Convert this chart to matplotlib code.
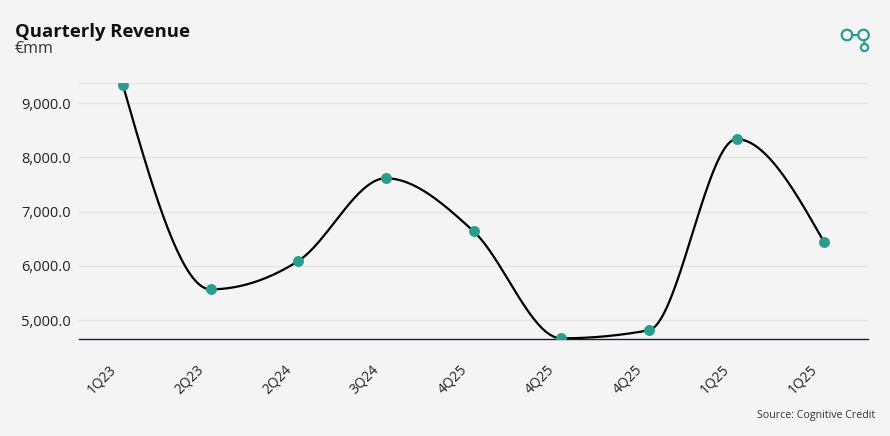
import numpy as np
import matplotlib.pyplot as plt
import matplotlib.transforms as mtransforms
from matplotlib.patches import Circle
from matplotlib.lines import Line2D

# дані графіка
quarters = ['1Q23', '2Q23', '2Q24', '3Q24', '4Q25', '4Q25', '4Q25', '1Q25', '1Q25']
revenue = [9335, 5570, 6090, 7615, 6640, 4668, 4816, 8335, 6436]
y_ticks = [5000, 6000, 7000, 8000, 9000]

TEAL = '#2a9d8f'
BG = '#f4f4f4'


def monotone_x(x, y, n=40):
    # кубічна монотонна інтерполяція (як d3.curveMonotoneX)
    x = np.asarray(x, float)
    y = np.asarray(y, float)
    h = np.diff(x)
    s = np.diff(y) / h
    m = np.zeros_like(y)
    for i in range(1, len(y) - 1):
        if s[i - 1] * s[i] <= 0:
            m[i] = 0
        else:
            p = (s[i - 1] * h[i] + s[i] * h[i - 1]) / (h[i - 1] + h[i])
            m[i] = (np.sign(s[i - 1]) + np.sign(s[i])) * min(abs(s[i - 1]), abs(s[i]), 0.5 * abs(p))
    m[0] = (3 * s[0] - m[1]) / 2
    m[-1] = (3 * s[-1] - m[-2]) / 2
    xs, ys = [], []
    for i in range(len(x) - 1):
        t = np.linspace(0, 1, n)
        h00 = 2 * t**3 - 3 * t**2 + 1
        h10 = t**3 - 2 * t**2 + t
        h01 = -2 * t**3 + 3 * t**2
        h11 = t**3 - t**2
        xs.append(x[i] + t * h[i])
        ys.append(h00 * y[i] + h10 * h[i] * m[i] + h01 * y[i + 1] + h11 * h[i] * m[i + 1])
    return np.concatenate(xs), np.concatenate(ys)


fig = plt.figure(figsize=(8.9, 4.36), dpi=100, facecolor=BG)
W, H = 890, 436
ax = fig.add_axes([79 / W, 1 - 339.3 / H, (868 - 79) / W, (339.3 - 83.3) / H])
ax.set_facecolor(BG)

xpos = np.arange(len(quarters))
cx, cy = monotone_x(xpos, revenue)
ax.plot(cx, cy, color='black', lw=1.6, zorder=3, solid_capstyle='round')
ax.scatter(xpos, revenue, s=62, color=TEAL, zorder=4, linewidths=0)

ax.set_xlim(-0.5, len(quarters) - 0.5)
ax.set_ylim(4650, 9363)

ax.set_yticks(y_ticks)
ax.set_yticklabels([f'{v:,.1f}' for v in y_ticks], fontsize=10.5, family='Open Sans', color='#222222')
ax.yaxis.grid(True, color='#e4e4e4', lw=0.9)
ax.axhline(9363, color='#e4e4e4', lw=0.9, zorder=0)
ax.set_axisbelow(True)

ax.set_xticks(xpos)
ax.set_xticklabels(quarters, rotation=45, ha='right', va='center', rotation_mode='anchor',
                   fontsize=10, family='Open Sans', color='#222222')
ax.tick_params(axis='both', length=0)
ax.tick_params(axis='x', pad=20)
ax.tick_params(axis='y', pad=6)
shift = mtransforms.ScaledTranslation(-9 / 100, 0, fig.dpi_scale_trans)
for lbl in ax.get_xticklabels():
    lbl.set_transform(lbl.get_transform() + shift)

for side in ['top', 'right', 'left']:
    ax.spines[side].set_visible(False)
ax.spines['bottom'].set_color('#16202e')
ax.spines['bottom'].set_linewidth(1.0)

fig.text(15 / W, 1 - 37 / H, 'Quarterly Revenue', fontsize=13.3, fontweight='bold',
         family='Open Sans', color='#111111', va='baseline')
fig.text(15 / W, 1 - 53 / H, '€mm', fontsize=11.5, family='Open Sans', color='#333333', va='baseline')
fig.text(875 / W, 1 - 418 / H, 'Source: Cognitive Credit', fontsize=7.7, family='Open Sans',
         color='#333333', ha='right', va='baseline')

# логотип у правому куті
logo = fig.add_axes([0, 0, 1, 1], facecolor='none')
logo.set_xlim(0, W)
logo.set_ylim(H, 0)
logo.axis('off')
logo.add_patch(Circle((847, 35), 5.3, fill=False, ec=TEAL, lw=1.6))
logo.add_patch(Circle((863.5, 35), 5.3, fill=False, ec=TEAL, lw=1.6))
logo.add_patch(Circle((864.5, 47.5), 3.6, fill=False, ec=TEAL, lw=1.6))
logo.add_line(Line2D([852.3, 858.2], [35, 35], color=TEAL, lw=1.6))
logo.add_line(Line2D([864.2, 864.4], [40.3, 43.9], color=TEAL, lw=1.6))

fig.savefig('out.png', dpi=100, facecolor=BG)
